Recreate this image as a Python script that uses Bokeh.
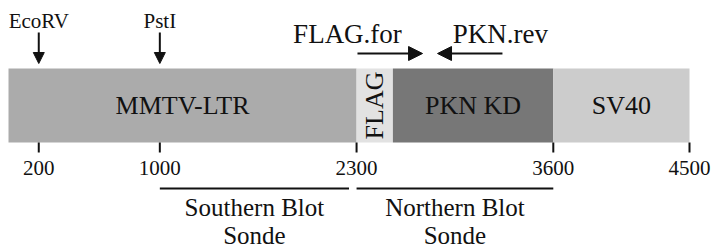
from bokeh.plotting import figure
from bokeh.models import Range1d, Arrow, NormalHead
from bokeh.core.properties import value
from bokeh.embed import file_html
from bokeh.resources import INLINE

# ---- data (bp positions) ----
seg_names = ["MMTV-LTR", "FLAG", "PKN KD", "SV40"]
seg_start = [0, 2300, 2540, 3600]
seg_end = [2300, 2540, 3600, 4500]
seg_colors = ["#ababab", "#e2e2e2", "#777777", "#cccccc"]

tick_pos = [200, 1000, 2300, 3600, 4500]
tick_labels = ["200", "1000", "2300", "3600", "4500"]

site_names = ["EcoRV", "PstI"]
site_pos = [200, 1000]

primer_names = ["FLAG.for", "PKN.rev"]
primer_start = [2306, 3264]
primer_end = [2736, 2835]

probe_names = ["Southern Blot\nSonde", "Northern Blot\nSonde"]
probe_start = [1000, 2300]
probe_end = [2250, 3600]

FONT = value("Liberation Serif")
INK = "#111111"

W, H = 712, 249
PX_PER_BP = 681 / 4500
X0 = -8 / PX_PER_BP

p = figure(width=W, height=H, output_backend="svg", toolbar_location=None,
           x_range=Range1d(X0, X0 + W / PX_PER_BP), y_range=Range1d(H, 0),
           min_border=0, min_border_left=0, min_border_right=0,
           min_border_top=0, min_border_bottom=0)
p.axis.visible = False
p.grid.visible = False
p.outline_line_color = None
p.background_fill_color = "white"

# y layout (pixels from top)
BAR_TOP, BAR_BOT = 68, 142

# bar segments
p.quad(left=seg_start, right=seg_end, top=BAR_TOP, bottom=BAR_BOT,
       fill_color=seg_colors, line_color=None)

# segment labels
centers = [(s + e) / 2 for s, e in zip(seg_start, seg_end)]
mid_y = (BAR_TOP + BAR_BOT) / 2
for name, cx in zip(seg_names, centers):
    if name == "FLAG":
        p.text(x=[cx], y=[mid_y], text=[name], angle=1.5708,
               text_font=FONT, text_font_size="26px", text_color=INK,
               text_align="center", text_baseline="middle")
    else:
        p.text(x=[cx], y=[mid_y], text=[name],
               text_font=FONT, text_font_size="26px", text_color=INK,
               text_align="center", text_baseline="middle")

# ticks below bar
p.segment(x0=tick_pos, x1=tick_pos, y0=[BAR_BOT] * len(tick_pos),
          y1=[BAR_BOT + 10] * len(tick_pos), line_color=INK, line_width=2)
p.text(x=tick_pos, y=[BAR_BOT + 25] * len(tick_pos), text=tick_labels,
       text_font=FONT, text_font_size="21px", text_color=INK,
       text_align="center", text_baseline="middle")

# restriction sites
for name, xp in zip(site_names, site_pos):
    p.add_layout(Arrow(end=NormalHead(size=11, fill_color=INK, line_color=INK),
                       x_start=xp, y_start=32, x_end=xp, y_end=63,
                       line_width=2, line_color=INK))
    p.text(x=[xp], y=[20], text=[name], text_font=FONT, text_font_size="21px",
           text_color=INK, text_align="center", text_baseline="middle")

# primers
for xs, xe in zip(primer_start, primer_end):
    p.add_layout(Arrow(end=NormalHead(size=14, fill_color=INK, line_color=INK),
                       x_start=xs, y_start=53, x_end=xe, y_end=53,
                       line_width=2, line_color=INK))
p.text(x=[2240, 3250], y=[33, 33], text=primer_names, text_font=FONT,
       text_font_size="27px", text_color=INK, text_align="center",
       text_baseline="middle")

# probes
p.segment(x0=probe_start, x1=probe_end, y0=[188, 188], y1=[188, 188],
          line_color=INK, line_width=2)
for name, s, e in zip(probe_names, probe_start, probe_end):
    l1, l2 = name.split("\n")
    cx = (s + e) / 2
    p.text(x=[cx, cx], y=[207, 235], text=[l1, l2], text_font=FONT,
           text_font_size="25px", text_color=INK, text_align="center",
           text_baseline="middle")

open("out.html", "w").write(file_html(p, INLINE))
